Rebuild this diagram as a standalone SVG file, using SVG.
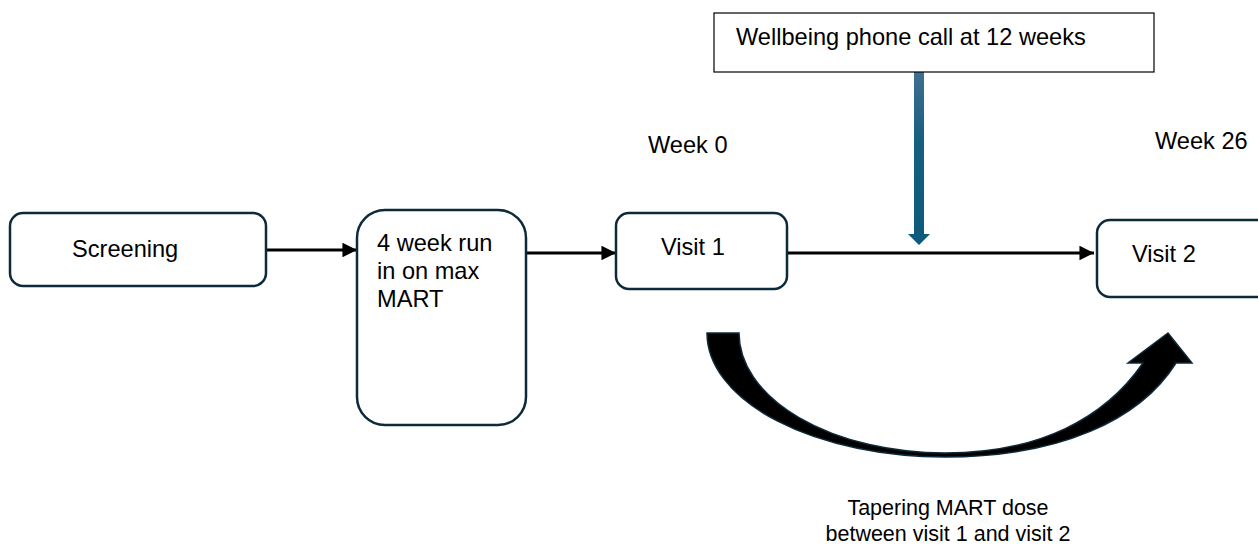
<svg xmlns="http://www.w3.org/2000/svg" width="1258" height="545" viewBox="0 0 1258 545">
<style>
text{font-family:"Liberation Sans",Arial,sans-serif;font-size:23.6px;fill:#000}
text.small{font-size:21.5px}
.box{fill:#fff;stroke:#0d2a3b;stroke-width:2.5}
.conn{stroke:#000;stroke-width:2.8;fill:none}
</style>
<defs>
<marker id="ah" viewBox="0 0 10 10" refX="10" refY="5" markerWidth="5.2" markerHeight="5.2" orient="auto" markerUnits="strokeWidth">
<path d="M0,0 L10,5 L0,10 Z" fill="#000"/>
</marker>
<linearGradient id="blue" x1="0" y1="0" x2="0" y2="1">
<stop offset="0" stop-color="#3e6f90"/>
<stop offset="0.4" stop-color="#165f80"/>
<stop offset="1" stop-color="#0c5a7c"/>
</linearGradient>
</defs>
<g id="connectors">
<line class="conn" x1="266" y1="250" x2="357" y2="250" marker-end="url(#ah)"/>
<line class="conn" x1="526" y1="253" x2="616" y2="253" marker-end="url(#ah)"/>
<line class="conn" x1="787" y1="253" x2="1094" y2="253" marker-end="url(#ah)"/>
<path id="phone-arrow" d="M914,72 L924,72 L924,234 L930,234 L919,245 L908,234 L914,234 Z" fill="url(#blue)"/>
<path id="taper-arrow" d="M707,333 A238,124 0 0 0 945,457 C1060,457 1140,420 1176,363 L1192,363 L1168,333 L1128,363 L1143,363 C1105,418 1040,453 945,453 A206,120 0 0 1 739,333 Z" fill="#000" stroke="#0d2a3b" stroke-width="1.5"/>
</g>
<g id="screening">
<rect class="box" x="10" y="213" width="256" height="73" rx="13"/>
<text x="72" y="257">Screening</text>
</g>
<g id="run-in">
<rect class="box" x="357" y="210" width="169" height="215" rx="28"/>
<text x="377" y="251">4 week run</text>
<text x="377" y="279">in on max</text>
<text x="377" y="307">MART</text>
</g>
<g id="visit1">
<rect class="box" x="616" y="213" width="171" height="76" rx="13"/>
<text x="661" y="255">Visit 1</text>
</g>
<g id="visit2">
<rect class="box" x="1097" y="220" width="175" height="77" rx="13"/>
<text x="1132" y="262">Visit 2</text>
</g>
<g id="wellbeing">
<rect x="714" y="13" width="440" height="59" fill="#fff" stroke="#000" stroke-width="1.2"/>
<text x="736" y="45">Wellbeing phone call at 12 weeks</text>
</g>
<g id="labels">
<text x="648" y="153">Week 0</text>
<text x="1155" y="149">Week 26</text>
<text class="small" x="948" y="515" text-anchor="middle">Tapering MART dose</text>
<text class="small" x="948" y="541" text-anchor="middle">between visit 1 and visit 2</text>
</g>
</svg>
